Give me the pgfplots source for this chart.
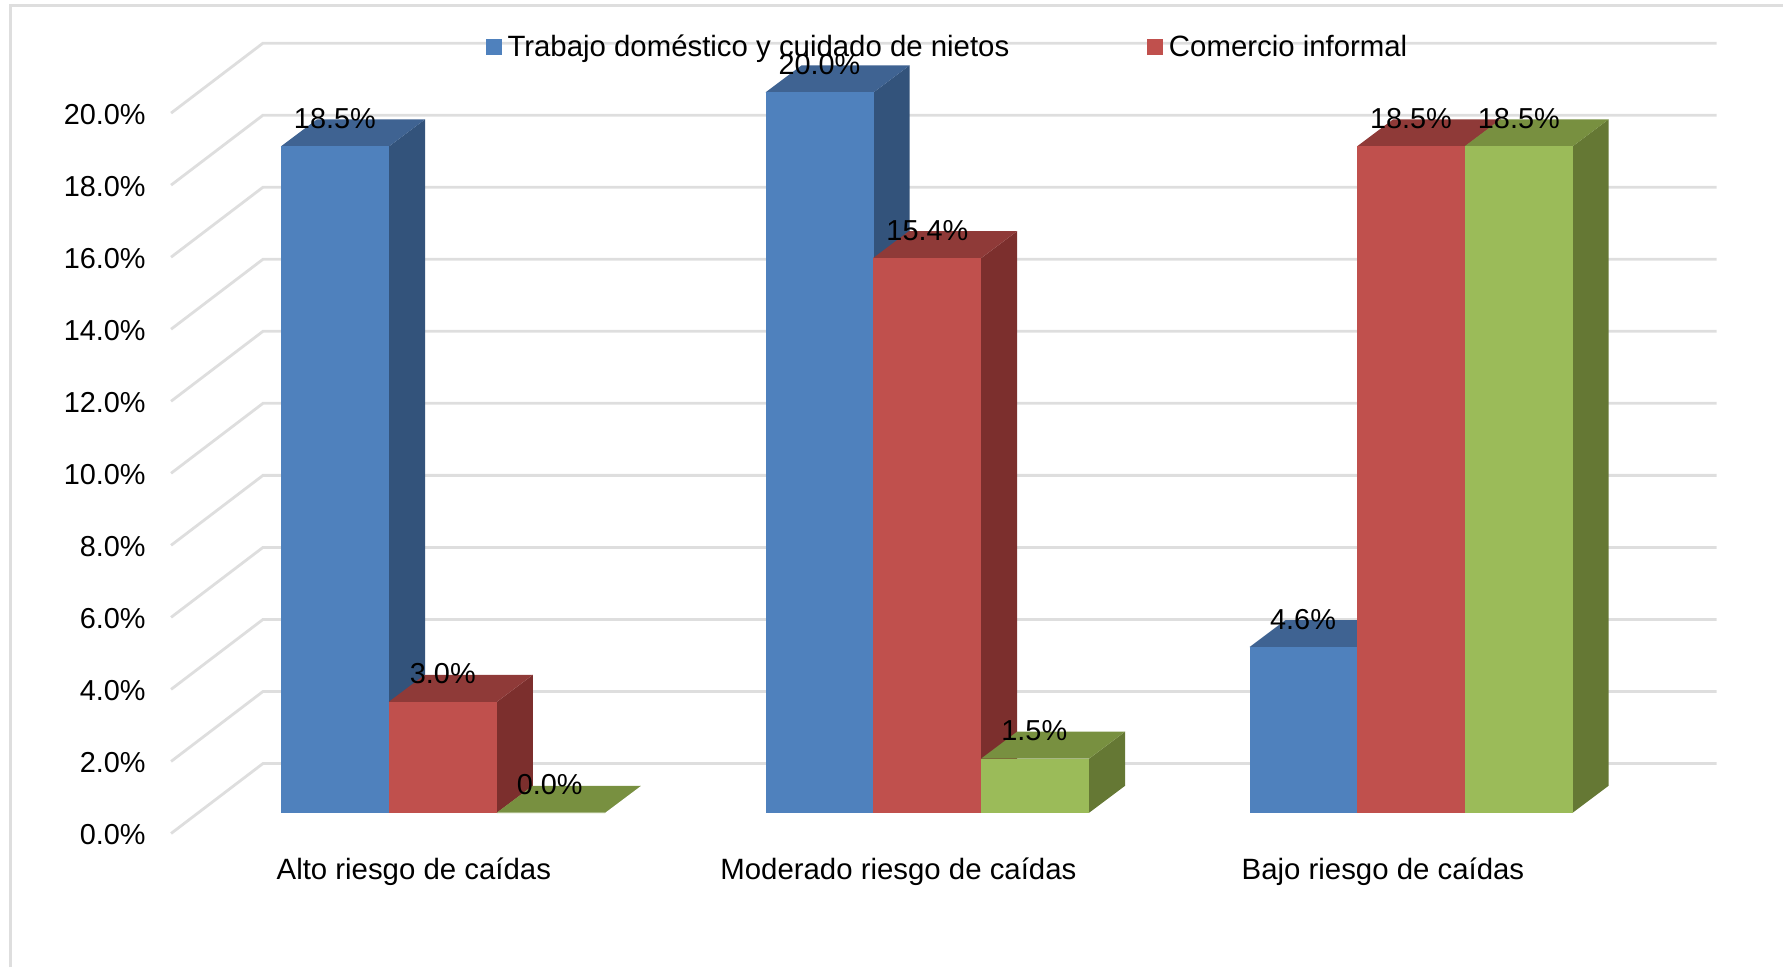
\documentclass[border=0pt]{standalone}
\usepackage{fontspec}
\setmainfont{Liberation Sans}
\usepackage{pgfplots}
\usepackage{pgfplotstable}
\pgfplotsset{compat=1.18}

\definecolor{bluef}{HTML}{4F81BD}
\definecolor{bluet}{HTML}{3F6392}
\definecolor{blues}{HTML}{33537B}
\definecolor{redf}{HTML}{C0504D}
\definecolor{redt}{HTML}{8F3A38}
\definecolor{reds}{HTML}{7C2F2D}
\definecolor{greenf}{HTML}{9BBB59}
\definecolor{greent}{HTML}{789040}
\definecolor{greens}{HTML}{657834}
\definecolor{gridc}{HTML}{DEDEDE}

% x in reference pixels, y in percent on the plane of the tick labels
\newcommand{\barbase}{0.576}   % front of the bars above the tick plane
\newcommand{\depth}{0.749}     % bar depth, upwards
\newcommand{\wallbase}{1.942}  % back wall above the tick plane

% one 3D bar: left edge, value, colour prefix
\newcommand{\cube}[3]{%
  \pgfmathsetmacro\xa{#1}\pgfmathsetmacro\xb{#1+108.2}\pgfmathsetmacro\xc{#1+144.2}\pgfmathsetmacro\xd{#1+36}%
  \pgfmathsetmacro\ya{\barbase}\pgfmathsetmacro\yb{\barbase+#2}%
  \pgfmathsetmacro\yc{\barbase+\depth}\pgfmathsetmacro\yd{\barbase+#2+\depth}%
  \edef\temp{\noexpand\addplot[fill=#3s,draw=none,forget plot] coordinates {(\xb,\ya)(\xc,\yc)(\xc,\yd)(\xb,\yb)};
    \noexpand\addplot[fill=#3t,draw=none,forget plot] coordinates {(\xa,\yb)(\xd,\yd)(\xc,\yd)(\xb,\yb)};
    \noexpand\addplot[fill=#3f,draw=none,forget plot] coordinates {(\xa,\ya)(\xb,\ya)(\xb,\yb)(\xa,\yb)};}%
  \temp
}
\newcommand{\gridline}[1]{%
  \pgfmathsetmacro\yw{#1+\wallbase}%
  \edef\temp{\noexpand\addplot[gridc,line width=1.4pt,forget plot] coordinates {(171,#1)(263,\yw)(1718,\yw)};}%
  \temp
}

% value labels: x is the centre of the bar front
\pgfplotstableread{
x v lab
335 18.5 18.5
443 3.08 3.0
550 0 0.0
820 20.0 20.0
928 15.4 15.4
1035 1.5 1.5
1304 4.6 4.6
1412 18.5 18.5
1520 18.5 18.5
}\labels

\begin{document}
\begin{tikzpicture}
\begin{axis}[
    x=0.5pt, y=18.025pt,
    xmin=0, xmax=1784,
    ymin=-3.717, ymax=23.135,
    axis line style={draw=none},
    major tick length=0pt,
    clip=false,
    ytick={0,2,...,20},
    yticklabel style={anchor=east, xshift=73pt, yshift=-0.5pt, font=\fontsize{14.45}{17}\selectfont},
    yticklabel={\pgfmathprintnumber{\tick}\%},
    /pgf/number format/.cd, fixed, fixed zerofill, precision=1, assume math mode=true,
    /pgfplots/.cd,
    scaled y ticks=false,
    xtick={414,899,1384},
    xticklabels={Alto riesgo de caídas,Moderado riesgo de caídas,Bajo riesgo de caídas},
    xticklabel style={anchor=base, yshift=44pt, font=\fontsize{14.7}{17}\selectfont},
    tick label style={inner sep=0pt, black},
    legend columns=2,
    legend style={
        at={(0.2724,0.9515)}, anchor=west, draw=none, fill=none,
        inner sep=0pt, outer sep=0pt,
        font=\fontsize{14.7}{17}\selectfont,
        /tikz/every even column/.append style={column sep=67pt},
        legend cell align=left,
    },
]
% frame of the chart area
\addplot[gridc,line width=1.4pt,forget plot] coordinates {(10,-3.717)(10,22.98)(1784,22.98)};

\gridline{0}\gridline{2}\gridline{4}\gridline{6}\gridline{8}\gridline{10}
\gridline{12}\gridline{14}\gridline{16}\gridline{18}\gridline{20}

\cube{281}{18.5}{blue}
\cube{389}{3.08}{red}
\cube{497}{0}{green}

\cube{766}{20.0}{blue}
\cube{873.7}{15.4}{red}
\cube{981.7}{1.5}{green}

\cube{1250.5}{4.6}{blue}
\cube{1358}{18.5}{red}
\cube{1465.6}{18.5}{green}

\addplot[only marks, mark=none, forget plot, point meta=explicit symbolic,
    nodes near coords={\pgfplotspointmeta\%},
    nodes near coords align={anchor=center},
    every node near coord/.append style={font=\fontsize{14.45}{17}\selectfont, yshift=13.9pt, inner sep=0pt, black}]
    table[x=x, y expr=\thisrow{v}+\barbase, meta=lab] {\labels};

\addlegendimage{area legend, legend image code/.code={\fill[bluef] (0pt,-3.75pt) rectangle (7.5pt,3.75pt); \path (8.5pt,0pt);}}
\addlegendentry{Trabajo doméstico y cuidado de nietos}
\addlegendimage{area legend, legend image code/.code={\fill[redf] (0pt,-3.75pt) rectangle (7.5pt,3.75pt); \path (8.5pt,0pt);}}
\addlegendentry{Comercio informal}
\end{axis}
\end{tikzpicture}
\end{document}
